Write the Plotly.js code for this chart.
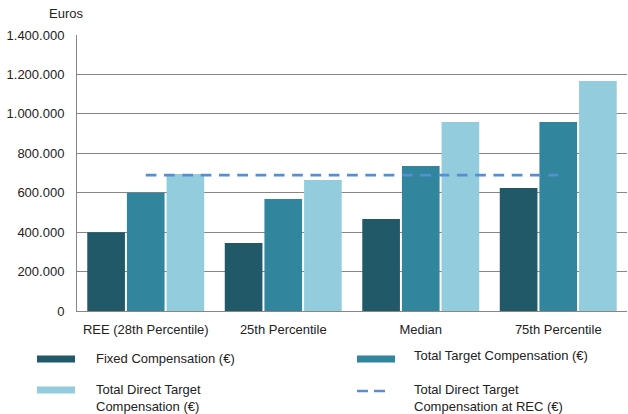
<!DOCTYPE html>
<html>
<head>
<meta charset="utf-8">
<script src="https://cdn.plot.ly/plotly-3.0.1.min.js"></script>
<style>html,body{margin:0;padding:0;background:#fff;}#chart{width:628px;height:414px;}</style>
</head>
<body>
<div id="chart"></div>
<script>
const categories = ['REE (28th Percentile)', '25th Percentile', 'Median', '75th Percentile'];
const fixedComp = [400000, 345000, 467000, 624000];
const targetComp = [600000, 568000, 735000, 959000];
const directTargetComp = [695000, 664000, 959000, 1167000];
const recLine = [689000, 689000, 689000, 689000];
const seriesNames = ['Fixed Compensation (€)', 'Total Target Compensation (€)', 'Total Direct Target<br>Compensation (€)', 'Total Direct Target<br>Compensation at REC (€)'];
const yTicks = [0, 200000, 400000, 600000, 800000, 1000000, 1200000, 1400000];

const colors = ['#215968', '#31859C', '#93CDDD', '#558ED5'];
const FONT = 'Liberation Sans, Arial, sans-serif';

// plot area in pixels
const L = 77, R = 627, T = 35, B = 311;
const X = px => (px - L) / (R - L);
const Y = py => (B - py) / (B - T);

const traces = [
  {type: 'bar', x: categories, y: fixedComp, name: seriesNames[0], marker: {color: colors[0]}},
  {type: 'bar', x: categories, y: targetComp, name: seriesNames[1], marker: {color: colors[1]}},
  {type: 'bar', x: categories, y: directTargetComp, name: seriesNames[2], marker: {color: colors[2]}},
  {type: 'scatter', mode: 'lines', x: categories, y: recLine, name: seriesNames[3],
   line: {color: colors[3], width: 2.7, dash: '10.7px,7.6px'}}
];

const legendItems = [
  {sx: 37, sy: 359, tx: 94, ty: 359, kind: 'bar', c: colors[0], t: seriesNames[0]},
  {sx: 357, sy: 359, tx: 412, ty: 355, kind: 'bar', c: colors[1], t: seriesNames[1]},
  {sx: 37, sy: 390, tx: 94, ty: 398, kind: 'bar', c: colors[2], t: seriesNames[2]},
  {sx: 357, sy: 391, tx: 412, ty: 398, kind: 'line', c: colors[3], t: seriesNames[3]}
];

const shapes = [];
const annotations = [{
  xref: 'paper', yref: 'paper', x: X(47), y: Y(13), xanchor: 'left', yanchor: 'middle',
  text: 'Euros', showarrow: false, font: {family: FONT, size: 13, color: '#222'}
}];
legendItems.forEach(it => {
  if (it.kind === 'bar') {
    shapes.push({type: 'rect', xref: 'paper', yref: 'paper', x0: X(it.sx), x1: X(it.sx + 38),
      y0: Y(it.sy - 3.5), y1: Y(it.sy + 3.5), fillcolor: it.c, line: {width: 0}});
  } else {
    shapes.push({type: 'line', xref: 'paper', yref: 'paper', x0: X(it.sx), x1: X(it.sx + 28),
      y0: Y(it.sy), y1: Y(it.sy), line: {color: it.c, width: 2.6, dash: '11px,6px'}});
  }
  annotations.push({xref: 'paper', yref: 'paper', x: X(it.tx), y: Y(it.ty), xanchor: 'left', yanchor: 'middle',
    align: 'left', text: it.t, showarrow: false, font: {family: FONT, size: 13, color: '#222'}});
});

const layout = {
  width: 628, height: 414,
  margin: {l: L, r: 628 - R, t: T, b: 414 - B, pad: 0},
  paper_bgcolor: '#fff', plot_bgcolor: '#fff',
  separators: ',.',
  showlegend: false,
  barmode: 'group', bargap: 0.135, bargroupgap: 0.05,
  font: {family: FONT, size: 13, color: '#222'},
  xaxis: {type: 'category', showline: true, linecolor: '#868686', linewidth: 1,
    ticks: '', showgrid: false, tickfont: {family: FONT, size: 13, color: '#222'}, ticklabelstandoff: 6},
  yaxis: {range: [0, 1400000], tickvals: yTicks, tickformat: ',d', showline: true, linecolor: '#868686',
    linewidth: 1, gridcolor: '#868686', gridwidth: 1, zeroline: false, ticks: '',
    tickfont: {family: FONT, size: 13, color: '#222'}, ticklabelstandoff: 9},
  shapes: shapes,
  annotations: annotations
};

Plotly.newPlot('chart', traces, layout, {displayModeBar: false, staticPlot: true});
</script>
</body>
</html>
